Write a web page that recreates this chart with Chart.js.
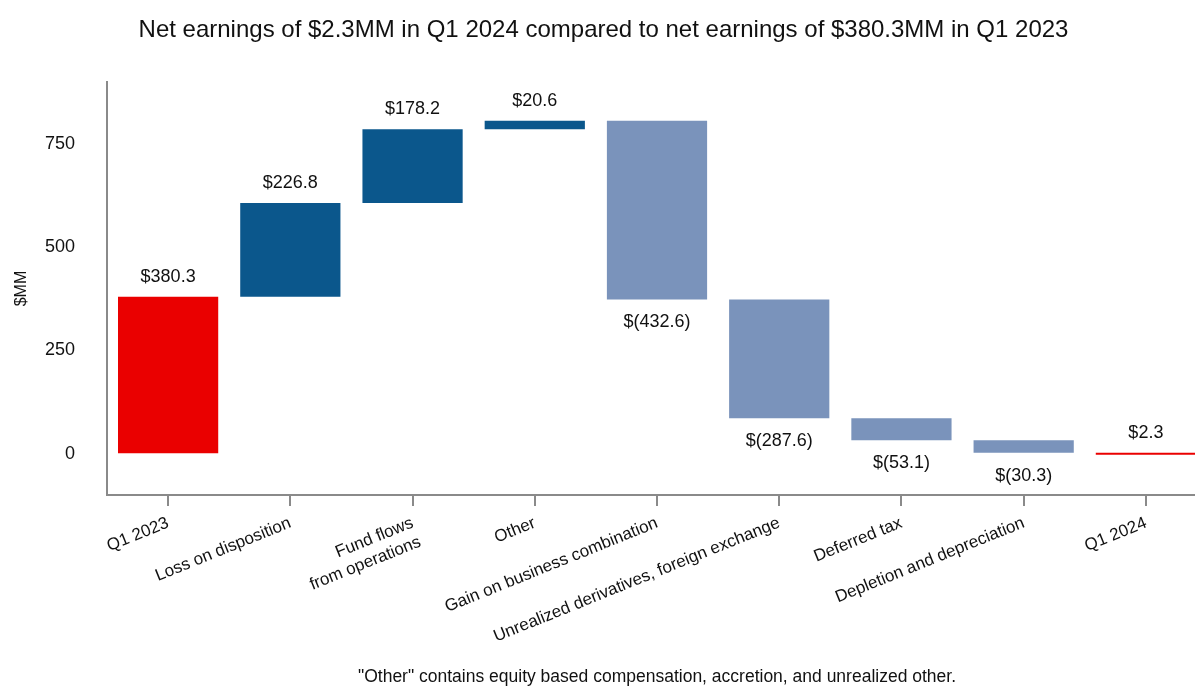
<!DOCTYPE html>
<html>
<head>
<meta charset="utf-8">
<script src="https://cdn.jsdelivr.net/npm/chart.js@4/dist/chart.umd.min.js"></script>
<style>
  html, body { margin: 0; padding: 0; background: #fff; overflow: hidden; }
  #wrap { width: 1210px; height: 688px; position: relative; }
</style>
</head>
<body>
<div id="wrap"><canvas id="c"></canvas></div>
<script>
const categories = [
  'Q1 2023',
  'Loss on disposition',
  ['Fund flows', 'from operations'],
  'Other',
  'Gain on business combination',
  'Unrealized derivatives, foreign exchange',
  'Deferred tax',
  'Depletion and depreciation',
  'Q1 2024'
];
const changes = [380.3, 226.8, 178.2, 20.6, -432.6, -287.6, -53.1, -30.3, 2.3];
const barKinds = ['total', 'step', 'step', 'step', 'step', 'step', 'step', 'step', 'total'];
const yTickValues = [0, 250, 500, 750];
const titleText = 'Net earnings of $2.3MM in Q1 2024 compared to net earnings of $380.3MM in Q1 2023';
const footnoteText = '"Other" contains equity based compensation, accretion, and unrealized other.';

const RED = '#EA0000', DARK = '#0B578C', LIGHT = '#7A93BB', AXIS = '#8A8A8A';
const FONT = "'Liberation Sans', Arial, sans-serif";

// Build floating ranges for the waterfall
let running = 0;
const ranges = changes.map((v, i) => {
  if (barKinds[i] === 'total') { running = v; return [0, v]; }
  const start = running; running += v; return [start, running];
});
const colors = changes.map((v, i) => barKinds[i] === 'total' ? RED : (v >= 0 ? DARK : LIGHT));
const fmt = v => v >= 0 ? '$' + v.toFixed(1) : '$(' + Math.abs(v).toFixed(1) + ')';

const labelPlugin = {
  id: 'wfLabels',
  afterDatasetsDraw(chart) {
    const ctx = chart.ctx;
    const meta = chart.getDatasetMeta(0);
    ctx.save();
    ctx.font = '18px ' + FONT;
    ctx.fillStyle = '#111';
    ctx.textAlign = 'center';
    ctx.textBaseline = 'middle';
    meta.data.forEach((el, i) => {
      const top = Math.min(el.y, el.base), bot = Math.max(el.y, el.base);
      const v = changes[i];
      if (v >= 0) ctx.fillText(fmt(v), el.x, top - 20);
      else ctx.fillText(fmt(v), el.x, bot + 23);
    });
    ctx.restore();
  }
};

new Chart(document.getElementById('c'), {
  type: 'bar',
  data: {
    labels: categories,
    datasets: [{
      data: ranges,
      backgroundColor: colors,
      borderWidth: 0,
      barPercentage: 0.82,
      categoryPercentage: 1.0,
      minBarLength: 2
    }]
  },
  options: {
    responsive: true,
    maintainAspectRatio: false,
    animation: false,
    devicePixelRatio: 1,
    layout: { padding: { left: 0, right: 3, top: 0, bottom: 0 } },
    plugins: {
      legend: { display: false },
      tooltip: { enabled: false },
      title: {
        display: true,
        text: titleText,
        color: '#111',
        font: { family: FONT, size: 24, weight: 'normal' },
        padding: { top: 16, bottom: 37.2 }
      }
    },
    scales: {
      x: {
        grid: { display: true, drawOnChartArea: false, drawTicks: true, tickLength: 11, color: AXIS, lineWidth: 2, offset: false },
        border: { display: true, color: AXIS, width: 2 },
        ticks: {
          color: '#111',
          font: { family: FONT, size: 17 },
          minRotation: 22, maxRotation: 22,
          autoSkip: false,
          padding: 7
        },
        title: {
          display: true,
          text: footnoteText,
          color: '#111',
          font: { family: FONT, size: 17.5 },
          padding: { top: 0, bottom: 0 }
        },
        afterFit(scale) { scale.height = 193; }
      },
      y: {
        min: -100,
        max: 900,
        grid: { display: true, drawOnChartArea: false, drawTicks: false },
        border: { display: true, color: AXIS, width: 2 },
        ticks: {
          color: '#111',
          font: { family: FONT, size: 18 },
          padding: 32
        },
        afterBuildTicks(scale) {
          scale.ticks = yTickValues.map(v => ({ value: v }));
        },
        title: {
          display: true,
          text: '$MM',
          color: '#111',
          font: { family: FONT, size: 16 },
          padding: { top: 12, bottom: 0 }
        },
        afterFit(scale) { scale.width = 107; }
      }
    }
  },
  plugins: [labelPlugin]
});
</script>
</body>
</html>
